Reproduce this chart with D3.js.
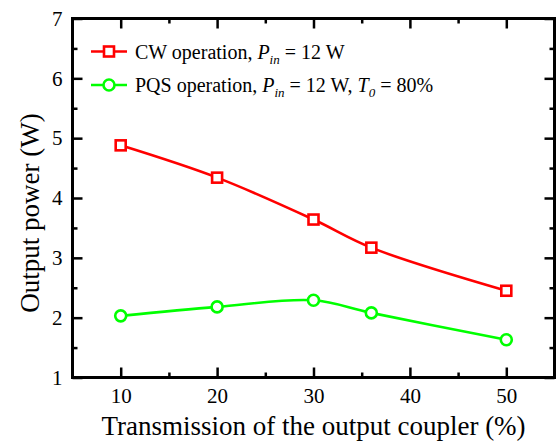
<!DOCTYPE html>
<html>
<head>
<meta charset="utf-8">
<script src="https://cdn.jsdelivr.net/npm/d3@7"></script>
<style>
  body { margin: 0; background: #fff; }
</style>
</head>
<body>
<div id="chart"></div>
<script>
// Data
var transmission = [10, 20, 30, 36, 50];
var cwPower = [4.88, 4.34, 3.64, 3.17, 2.45];
var pqsPower = [2.03, 2.18, 2.29, 2.08, 1.63];
var xTicks = [10, 20, 30, 40, 50];
var xMinorTicks = [15, 25, 35, 45];
var yTicks = [1, 2, 3, 4, 5, 6, 7];
var yMinorTicks = [1.5, 2.5, 3.5, 4.5, 5.5, 6.5];

var width = 556, height = 444;
var plot = {left: 72.5, right: 554.5, top: 18.5, bottom: 377.5};
var serif = "'Liberation Serif', 'Times New Roman', serif";

var svg = d3.select("#chart")
    .append("svg")
    .attr("width", width)
    .attr("height", height)
    .attr("font-family", serif);

var x = d3.scaleLinear().domain([5, 55]).range([plot.left, plot.right]);
var y = d3.scaleLinear().domain([1, 7]).range([plot.bottom, plot.top]);

// Axes with inward ticks
function styleAxis(g) {
    g.attr("font-family", serif);
    g.select(".domain").remove();
    g.selectAll(".tick line").attr("stroke", "#000").attr("stroke-width", 2.5);
    g.selectAll(".tick text")
        .attr("font-family", serif)
        .attr("font-size", 21)
        .attr("fill", "#000");
}

svg.append("g")
    .attr("transform", "translate(0," + plot.bottom + ")")
    .call(d3.axisBottom(x).tickValues(xTicks).tickSize(-10).tickPadding(11).tickFormat(d3.format("d")))
    .call(styleAxis);
svg.append("g")
    .attr("transform", "translate(0," + plot.bottom + ")")
    .call(d3.axisBottom(x).tickValues(xMinorTicks).tickSize(-5).tickFormat(""))
    .call(styleAxis);
svg.append("g")
    .attr("transform", "translate(0," + plot.top + ")")
    .call(d3.axisTop(x).tickValues(xTicks).tickSize(-10).tickFormat(""))
    .call(styleAxis);
svg.append("g")
    .attr("transform", "translate(0," + plot.top + ")")
    .call(d3.axisTop(x).tickValues(xMinorTicks).tickSize(-5).tickFormat(""))
    .call(styleAxis);

svg.append("g")
    .attr("transform", "translate(" + plot.left + ",0)")
    .call(d3.axisLeft(y).tickValues(yTicks).tickSize(-10).tickPadding(10).tickFormat(d3.format("d")))
    .call(styleAxis);
svg.append("g")
    .attr("transform", "translate(" + plot.left + ",0)")
    .call(d3.axisLeft(y).tickValues(yMinorTicks).tickSize(-5).tickFormat(""))
    .call(styleAxis);
svg.append("g")
    .attr("transform", "translate(" + plot.right + ",0)")
    .call(d3.axisRight(y).tickValues(yTicks).tickSize(-10).tickFormat(""))
    .call(styleAxis);
svg.append("g")
    .attr("transform", "translate(" + plot.right + ",0)")
    .call(d3.axisRight(y).tickValues(yMinorTicks).tickSize(-5).tickFormat(""))
    .call(styleAxis);

// Frame
svg.append("rect")
    .attr("x", plot.left)
    .attr("y", plot.top)
    .attr("width", plot.right - plot.left)
    .attr("height", plot.bottom - plot.top)
    .attr("fill", "none")
    .attr("stroke", "#000")
    .attr("stroke-width", 3);

// Series
var series = [
    {name: "cw", values: cwPower, color: "#ff0000", marker: "square"},
    {name: "pqs", values: pqsPower, color: "#00ff00", marker: "circle"}
];

var line = d3.line()
    .x(function(d) { return x(d.t); })
    .y(function(d) { return y(d.p); })
    .curve(d3.curveCatmullRom.alpha(0.5));

function drawMarker(g, type, color) {
    if (type === "square") {
        g.append("rect")
            .attr("x", -5).attr("y", -5)
            .attr("width", 10).attr("height", 10)
            .attr("fill", "#fff")
            .attr("stroke", color)
            .attr("stroke-width", 2.6);
    } else {
        g.append("circle")
            .attr("r", 5.5)
            .attr("fill", "#fff")
            .attr("stroke", color)
            .attr("stroke-width", 2.6);
    }
}

series.forEach(function(s) {
    var pts = transmission.map(function(t, i) { return {t: t, p: s.values[i]}; });
    svg.append("path")
        .datum(pts)
        .attr("d", line)
        .attr("fill", "none")
        .attr("stroke", s.color)
        .attr("stroke-width", 2.6);
    svg.selectAll(".m-" + s.name)
        .data(pts)
        .enter()
        .append("g")
        .attr("class", "m-" + s.name)
        .attr("transform", function(d) { return "translate(" + x(d.t) + "," + y(d.p) + ")"; })
        .each(function() { drawMarker(d3.select(this), s.marker, s.color); });
});

// Legend
var legendRows = [
    {y: 51.5, color: "#ff0000", marker: "square"},
    {y: 85, color: "#00ff00", marker: "circle"}
];
legendRows.forEach(function(r) {
    var g = svg.append("g");
    g.append("line")
        .attr("x1", 91).attr("x2", 127)
        .attr("y1", r.y).attr("y2", r.y)
        .attr("stroke", r.color)
        .attr("stroke-width", 2.6);
    drawMarker(g.append("g").attr("transform", "translate(109," + r.y + ")"), r.marker, r.color);
});

var t1 = svg.append("text")
    .attr("x", 135).attr("y", 58.5)
    .attr("font-family", serif)
    .attr("font-size", 20);
t1.append("tspan").text("CW operation, ");
t1.append("tspan").attr("font-style", "italic").text("P");
t1.append("tspan").attr("font-style", "italic").attr("font-size", 13).attr("dy", 5).text("in");
t1.append("tspan").attr("dy", -5).text(" = 12 W");

var t2 = svg.append("text")
    .attr("x", 135).attr("y", 92)
    .attr("font-family", serif)
    .attr("font-size", 20);
t2.append("tspan").text("PQS operation, ");
t2.append("tspan").attr("font-style", "italic").text("P");
t2.append("tspan").attr("font-style", "italic").attr("font-size", 13).attr("dy", 5).text("in");
t2.append("tspan").attr("dy", -5).text(" = 12 W, ");
t2.append("tspan").attr("font-style", "italic").text("T");
t2.append("tspan").attr("font-style", "italic").attr("font-size", 13).attr("dy", 5).text("0");
t2.append("tspan").attr("dy", -5).text(" = 80%");

// Axis titles
svg.append("text")
    .attr("x", (plot.left + plot.right) / 2)
    .attr("y", 435)
    .attr("text-anchor", "middle")
    .attr("font-family", serif)
    .attr("font-size", 27)
    .text("Transmission of the output coupler (%)");

svg.append("text")
    .attr("transform", "translate(39,213) rotate(-90)")
    .attr("text-anchor", "middle")
    .attr("font-family", serif)
    .attr("font-size", 27)
    .text("Output power (W)");
</script>
</body>
</html>
